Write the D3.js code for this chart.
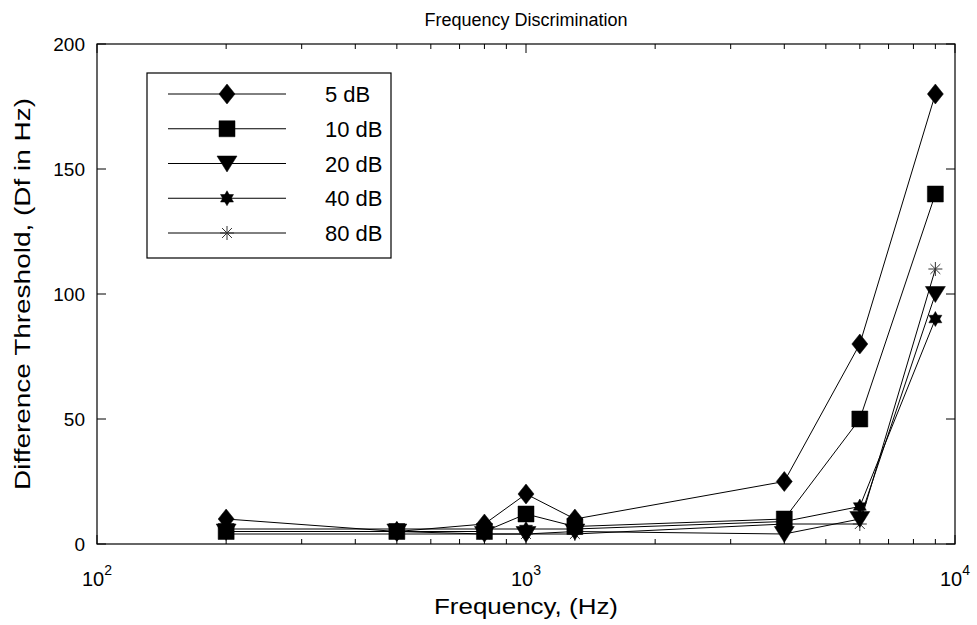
<!DOCTYPE html>
<html><head><meta charset="utf-8">
<script src="https://cdn.jsdelivr.net/npm/d3@7"></script>
<style>body{margin:0;background:#fff;} text{font-family:"Liberation Sans",Arial,Helvetica,sans-serif;fill:#000;}</style>
</head><body>
<svg id="c" width="977" height="625"></svg>
<script>
const frequencies = [200, 500, 800, 1000, 1300, 4000, 6000, 9000];
const seriesNames = ["5 dB", "10 dB", "20 dB", "40 dB", "80 dB"];
const values5 = [10, 5, 8, 20, 10, 25, 80, 180];
const values10 = [5, 5, 5, 12, 7, 10, 50, 140];
const values20 = [5, 5, 4, 4, 5, 4, 10, 100];
const values40 = [6, 6, 6, 6, 6, 9, 15, 90];
const values80 = [4, 4, 4, 4, 4, 8, 8, 110];
const yTicks = [0, 50, 100, 150, 200];
const xMajor = [100, 1000, 10000];
const markerTypes = ["diamond", "square", "triangle", "hexagram", "asterisk"];

const series = [values5, values10, values20, values40, values80].map((v, i) => ({name: seriesNames[i], marker: markerTypes[i], values: v}));

const L = 97, R = 955, T = 44, B = 544;
const svg = d3.select("#c");
const x = d3.scaleLog().domain([100, 10000]).range([L, R]);
const y = d3.scaleLinear().domain([0, 200]).range([B, T]);

function markerPath(type) {
  const p = d3.path();
  if (type === "diamond") { p.moveTo(0,-10); p.lineTo(8,0); p.lineTo(0,10); p.lineTo(-8,0); p.closePath(); }
  else if (type === "square") { p.rect(-8,-8,16,16); }
  else if (type === "triangle") { p.moveTo(-10,-7.5); p.lineTo(10,-7.5); p.lineTo(0,8.5); p.closePath(); }
  else if (type === "hexagram") {
    const r = 7.5;
    for (const off of [-Math.PI/2, Math.PI/2]) {
      for (let k = 0; k < 3; k++) { const a = off + k*2*Math.PI/3; const px = r*Math.cos(a), py = r*Math.sin(a); if (k===0) p.moveTo(px,py); else p.lineTo(px,py); }
      p.closePath();
    }
  }
  else if (type === "asterisk") {
    const r = 7;
    for (let k = 0; k < 4; k++) { const a = k*Math.PI/4; p.moveTo(r*Math.cos(a), r*Math.sin(a)); p.lineTo(-r*Math.cos(a), -r*Math.sin(a)); }
  }
  return p.toString();
}
function drawMarker(g, type, cx, cy) {
  const m = g.append("path").attr("d", markerPath(type)).attr("transform", `translate(${cx},${cy})`);
  if (type === "asterisk") m.attr("fill", "none").attr("stroke", "#333").attr("stroke-width", 1);
  else m.attr("fill", "#000").attr("stroke", "#000").attr("stroke-width", 0.5);
}

// frame
svg.append("rect").attr("x", L).attr("y", T).attr("width", R-L).attr("height", B-T).attr("fill", "none").attr("stroke", "#000").attr("stroke-width", 1.2);

// x ticks
const minor = [];
for (const d of [100, 1000]) for (let k = 2; k <= 9; k++) minor.push(d*k);
const tg = svg.append("g").attr("stroke", "#000").attr("stroke-width", 1);
minor.forEach(v => {
  tg.append("line").attr("x1", x(v)).attr("x2", x(v)).attr("y1", B).attr("y2", B-5);
  tg.append("line").attr("x1", x(v)).attr("x2", x(v)).attr("y1", T).attr("y2", T+5);
});
xMajor.forEach(v => {
  tg.append("line").attr("x1", x(v)).attr("x2", x(v)).attr("y1", B).attr("y2", B-9);
  tg.append("line").attr("x1", x(v)).attr("x2", x(v)).attr("y1", T).attr("y2", T+9);
  const t = svg.append("text").attr("x", x(v)).attr("y", 586).attr("text-anchor", "middle").attr("font-size", 20);
  t.append("tspan").text("10");
  t.append("tspan").attr("dy", -11).attr("font-size", 14).text(String(Math.round(Math.log10(v))));
});
yTicks.forEach(v => {
  tg.append("line").attr("x1", L).attr("x2", L+9).attr("y1", y(v)).attr("y2", y(v));
  tg.append("line").attr("x1", R).attr("x2", R-9).attr("y1", y(v)).attr("y2", y(v));
  svg.append("text").attr("x", 85).attr("y", y(v)+7).attr("text-anchor", "end").attr("font-size", 19).text(v);
});

// lines
const line = d3.line().x((d, i) => x(frequencies[i])).y(d => y(d));
series.forEach(s => {
  svg.append("path").attr("d", line(s.values)).attr("fill", "none").attr("stroke", "#000").attr("stroke-width", 1);
});
// markers
const mg = svg.append("g");
series.slice().reverse().forEach(s => {
  s.values.forEach((v, i) => drawMarker(mg, s.marker, x(frequencies[i]), y(v)));
});

// legend
const lg = svg.append("g");
lg.append("rect").attr("x", 147).attr("y", 73).attr("width", 244).attr("height", 185).attr("fill", "#fff").attr("stroke", "#000").attr("stroke-width", 1.2);
series.forEach((s, i) => {
  const yy = 94 + i*34.75;
  lg.append("line").attr("x1", 168).attr("x2", 286).attr("y1", yy).attr("y2", yy).attr("stroke", "#000").attr("stroke-width", 1);
  drawMarker(lg, s.marker, 227, yy);
  lg.append("text").attr("x", 325).attr("y", yy+8).attr("font-size", 22).text(s.name);
});

// titles
svg.append("text").attr("x", (L+R)/2).attr("y", 26).attr("text-anchor", "middle").attr("font-size", 18)
  .text("Frequency Discrimination");
svg.append("text").attr("x", (L+R)/2).attr("y", 614).attr("text-anchor", "middle").attr("font-size", 22)
  .attr("textLength", 184).attr("lengthAdjust", "spacingAndGlyphs").text("Frequency, (Hz)");
svg.append("text").attr("transform", `translate(30,${(T+B)/2}) rotate(-90)`).attr("text-anchor", "middle").attr("font-size", 22)
  .attr("textLength", 392).attr("lengthAdjust", "spacingAndGlyphs").text("Difference Threshold, (Df in Hz)");
</script>
</body></html>
